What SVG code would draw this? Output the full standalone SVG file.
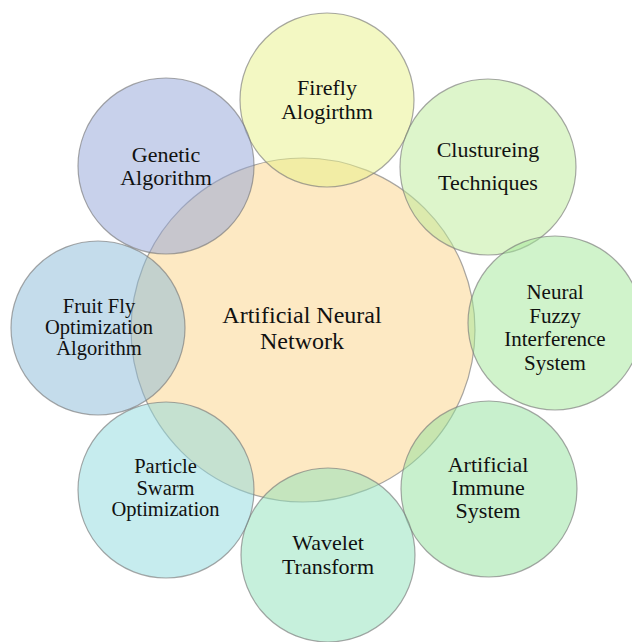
<svg xmlns="http://www.w3.org/2000/svg" width="632" height="642" viewBox="0 0 632 642">
<style>
.c{stroke:#7a7a7a;stroke-opacity:0.65;stroke-width:1.2;fill-opacity:0.5}
text{font-family:"Liberation Serif","Times New Roman",serif;font-size:22px;fill:#111;text-anchor:middle}
.s{font-size:20.5px}
.f{font-size:21px}
.b{font-size:24px}
</style>
<rect width="632" height="642" fill="#ffffff"/>
<g id="center">
<circle class="c" cx="303" cy="330" r="172" fill="#fbd387"/>
</g>
<g id="firefly">
<circle class="c" cx="327" cy="100" r="87" fill="#e7f187"/>
<text x="327" y="95">Firefly</text>
<text x="327" y="119">Alogirthm</text>
</g>
<g id="clustering">
<circle class="c" cx="488" cy="167" r="88" fill="#bbeb97"/>
<text x="488" y="157">Clustureing</text>
<text x="488" y="190">Techniques</text>
</g>
<g id="fuzzy">
<circle class="c" cx="555" cy="323" r="87" fill="#a1e797"/>
<text class="f" x="555" y="299">Neural</text>
<text class="f" x="555" y="322.5">Fuzzy</text>
<text class="f" x="555" y="346">Interference</text>
<text class="f" x="555" y="369.5">System</text>
</g>
<g id="immune">
<circle class="c" cx="489" cy="489" r="88" fill="#91e19b"/>
<text x="488" y="472">Artificial</text>
<text x="488" y="495">Immune</text>
<text x="488" y="518">System</text>
</g>
<g id="wavelet">
<circle class="c" cx="328" cy="555" r="87" fill="#8de1b9"/>
<text x="328" y="550">Wavelet</text>
<text x="328" y="574">Transform</text>
</g>
<g id="pso">
<circle class="c" cx="166" cy="490" r="88" fill="#8dd9dd"/>
<text class="s" x="165.5" y="473">Particle</text>
<text class="s" x="165.5" y="494.5">Swarm</text>
<text class="s" x="165.5" y="516">Optimization</text>
</g>
<g id="fruitfly">
<circle class="c" cx="98" cy="328" r="87" fill="#89b9d7"/>
<text class="s" x="99" y="313">Fruit Fly</text>
<text class="s" x="99" y="334">Optimization</text>
<text class="s" x="99" y="355">Algorithm</text>
</g>
<g id="genetic">
<circle class="c" cx="166" cy="166" r="88" fill="#91a3d7"/>
<text x="166" y="162">Genetic</text>
<text x="166" y="185">Algorithm</text>
</g>
<g id="centerlabel">
<text class="b" x="302" y="323">Artificial Neural</text>
<text class="b" x="302" y="349">Network</text>
</g>
<g id="connectors"></g>
</svg>
